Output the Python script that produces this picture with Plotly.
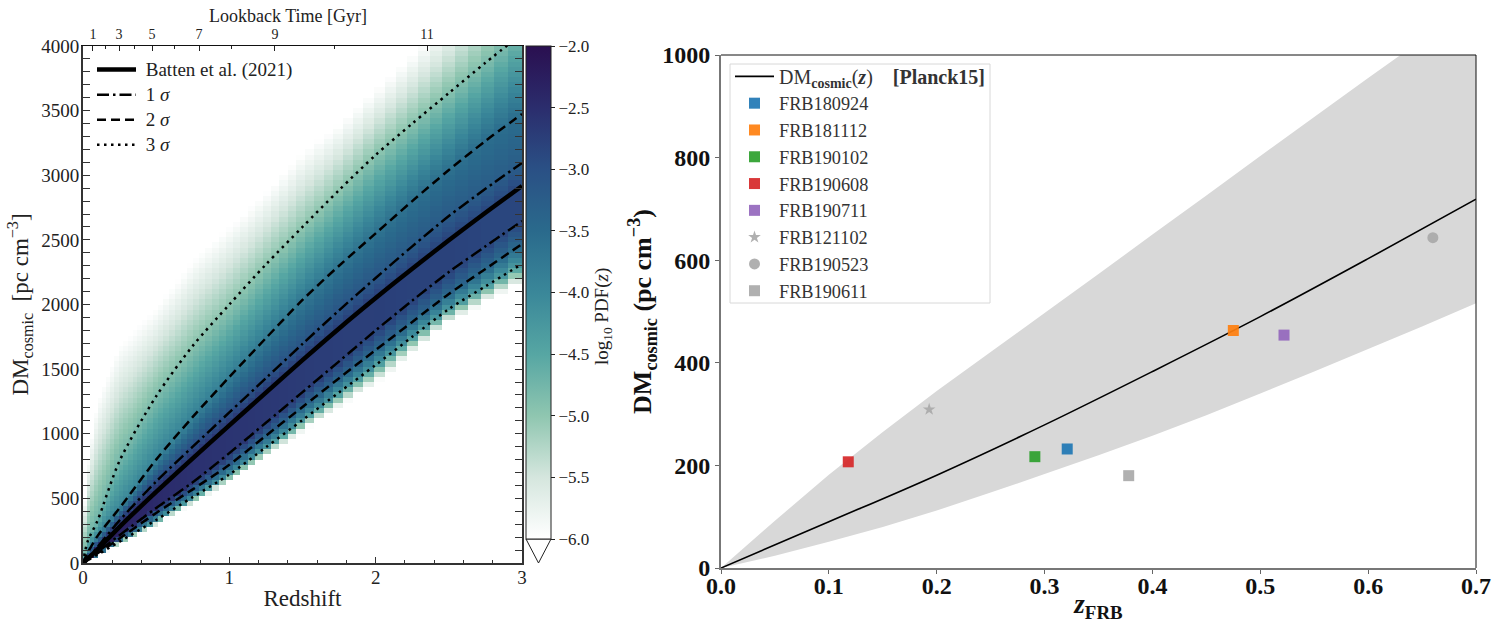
import numpy as np
import plotly.graph_objects as go

# ---------- left panel: curves ----------
z_curve = [0, .03, .1, .25, .5, .75, 1, 1.25, 1.5, 1.75, 2, 2.25, 2.5, 2.75, 3]
dm_mean = [0, 30, 105, 280, 550, 810, 1065, 1318, 1570, 1815, 2050, 2277, 2497, 2710, 2917]
dm_p1 = [0, 35, 125, 330, 630, 900, 1165, 1430, 1695, 1955, 2205, 2450, 2684, 2895, 3095]
dm_p2 = [0, 75, 210, 425, 800, 1130, 1439, 1740, 2035, 2300, 2550, 2800, 3040, 3265, 3474]
dm_p3 = [0, 162, 330, 790, 1290, 1680, 2000, 2310, 2600, 2885, 3157, 3400, 3636, 3870, 4095]
dm_m1 = [0, 25, 85, 215, 425, 625, 850, 1085, 1322, 1560, 1800, 2030, 2251, 2450, 2646]
dm_m2 = [0, 23, 75, 190, 387, 570, 760, 985, 1207, 1430, 1648, 1865, 2081, 2275, 2468]
dm_m3 = [0, 20, 65, 165, 333, 510, 685, 895, 1106, 1320, 1532, 1750, 1965, 2140, 2313]
dm_edge_low = [0, 17, 58, 145, 294, 460, 629, 820, 1020, 1210, 1393, 1630, 1865, 2020, 2174]
dm_edge_up = [300, 760, 1260, 1680, 1970, 2340, 2600, 2860, 3170, 3390, 3660, 3930, 4200, 4500, 4800]

pdf_edge_low = [-6.0] * 15
pdf_m3 = [-3.9, -3.9, -3.9, -3.95, -4.0, -4.05, -4.1, -4.15, -4.2, -4.2, -4.2, -4.25, -4.3, -4.3, -4.3]
pdf_m2 = [-3.0, -3.0, -3.05, -3.1, -3.15, -3.2, -3.25, -3.3, -3.35, -3.35, -3.4, -3.4, -3.45, -3.45, -3.5]
pdf_m1 = [-2.0, -2.05, -2.15, -2.3, -2.45, -2.55, -2.6, -2.65, -2.7, -2.75, -2.75, -2.8, -2.8, -2.85, -2.85]
pdf_mean = [-2.0, -2.05, -2.15, -2.3, -2.45, -2.55, -2.6, -2.65, -2.7, -2.75, -2.75, -2.8, -2.8, -2.85, -2.85]
pdf_p1 = [-2.5, -2.55, -2.65, -2.8, -2.9, -2.95, -3.0, -3.05, -3.1, -3.1, -3.15, -3.2, -3.2, -3.25, -3.25]
pdf_p2 = [-3.9, -3.9, -3.95, -4.0, -3.95, -3.9, -3.85, -3.8, -3.75, -3.7, -3.65, -3.6, -3.6, -3.55, -3.55]
pdf_p3 = [-4.7, -4.7, -4.7, -4.75, -4.85, -4.95, -5.0, -5.0, -5.0, -5.0, -4.95, -4.95, -4.9, -4.85, -4.75]
pdf_edge_up = [-6.0] * 15

# redshift bin edges
z_edges = [0, .0246, .0498, .0757, .1022, .1293, .1571, .1856, .2148, .2447, .2753, .3067, .3388, .3718,
           .4056, .4402, .4756, .5119, .5491, .5873, .6263, .6664, .7074, .7494, .7925, .8366, .8818,
           .9281, .9756, 1.0242, 1.0740, 1.1251, 1.1774, 1.2310, 1.2859, 1.3422, 1.3998, 1.4589, 1.5194,
           1.5814, 1.6450, 1.7101, 1.7768, 1.8451, 1.9151, 1.9869, 2.0604, 2.1357, 2.2129, 2.2920,
           2.3730, 2.4560, 2.5411, 2.6283, 2.7176, 2.8091, 2.9028, 3.0]
dm_edges = list(range(0, 4040, 40))

cbar_ticks = [-2.0, -2.5, -3.0, -3.5, -4.0, -4.5, -5.0, -5.5, -6.0]
lookback_major_z = [.068, .246, .472, .793, 1.312, 2.351]
lookback_major_txt = ["1", "3", "5", "7", "9", "11"]
lookback_minor_z = [.157, .355, .622, 1.018, 1.72]

# ---------- right panel ----------
z_band = [0, .05, .1, .15, .2, .25, .3, .35, .4, .45, .5, .55, .6, .65, .7]
dm_upper = [0, 92, 182, 265, 345, 421, 497, 573, 650, 726, 803, 879, 955, 1030, 1105]
dm_lower = [0, 24, 51, 80, 112, 147, 183, 220, 258, 298, 340, 383, 427, 471, 516]
z_line = [0, .1, .2, .3, .4, .5, .6, .7]
dm_line = [0, 90, 181, 279, 383, 490, 603, 719]

frb_names = ["FRB180924", "FRB181112", "FRB190102", "FRB190608", "FRB190711",
             "FRB121102", "FRB190523", "FRB190611"]
frb_z = [.321, .475, .291, .118, .522, .193, .66, .378]
frb_dm = [232, 463, 217, 207, 454, 309, 644, 180]
frb_col = ["#1f77b4", "#ff7f0e", "#2ca02c", "#d62728", "#9467bd", "#a9a9a9", "#a9a9a9", "#a9a9a9"]
frb_sym = ["square"] * 5 + ["star", "circle", "square"]

# ---------- heat cells: the cell grid is resampled from the table read above ----------
anchors_dm = [dm_edge_low, dm_m3, dm_m2, dm_m1, dm_mean, dm_p1, dm_p2, dm_p3, dm_edge_up]
anchors_pdf = [pdf_edge_low, pdf_m3, pdf_m2, pdf_m1, pdf_mean, pdf_p1, pdf_p2, pdf_p3, pdf_edge_up]
zc = 0.5 * (np.array(z_edges[:-1]) + np.array(z_edges[1:]))
dc = 0.5 * (np.array(dm_edges[:-1]) + np.array(dm_edges[1:]))
cells = np.full((len(dc), len(zc)), np.nan)
for i, zv in enumerate(zc):
    a_d = [np.interp(zv, z_curve, a) for a in anchors_dm]
    a_p = [np.interp(zv, z_curve, a) for a in anchors_pdf]
    cells[:, i] = np.interp(dc, a_d, a_p, left=np.nan, right=np.nan)

W, H = 1498.0, 623.0
def px(x): return x / W
def py(y): return 1 - y / H
def big(t, s): return f'<span style="font-size:{s}px">{t}</span>'

SERIF = "Liberation Serif"
colorscale = [[0, "#ffffff"], [.125, "#d5e6de"], [.25, "#8fc6b0"], [.375, "#56a6a3"], [.5, "#3a8799"],
              [.625, "#2a6a8c"], [.75, "#2a5085"], [.875, "#2b2d6d"], [1, "#2a0f50"]]

fig = go.Figure()
fig.add_trace(go.Heatmap(
    x=z_edges, y=dm_edges, z=cells.tolist(), zmin=-6, zmax=-2, colorscale=colorscale,
    hoverongaps=False,
    colorbar=dict(x=px(526), xanchor="left", y=py(539), yanchor="bottom", len=(539 - 46) / H,
                  thickness=25, xpad=0, ypad=0, outlinecolor="#222", outlinewidth=1,
                  tickvals=cbar_ticks, ticktext=[f"\u2212{abs(t):.1f}" for t in cbar_ticks],
                  ticks="outside", ticklen=4, tickcolor="#222",
                  tickfont=dict(family=SERIF, size=17, color="#222")),
    xaxis="x", yaxis="y"))

curves = [
    (dm_mean, "Batten et al. (2021)", 4.5, "solid"),
    (dm_p1, "1 <i>\u03c3</i>", 2.5, "12px,4px,2.5px,4px"),
    (dm_m1, None, 2.5, "12px,4px,2.5px,4px"),
    (dm_p2, "2 <i>\u03c3</i>", 2.5, "9px,5px"),
    (dm_m2, None, 2.5, "9px,5px"),
    (dm_p3, "3 <i>\u03c3</i>", 2.5, "2.5px,4.5px"),
    (dm_m3, None, 2.5, "2.5px,4.5px"),
]
for i, (vals, name, w, dash) in enumerate(curves):
    fig.add_trace(go.Scatter(
        x=z_curve, y=vals, mode="lines", name=big("\u00a0" + name, 19) if name else "",
        showlegend=name is not None,
        line=dict(color="black", width=w, dash=dash, shape="spline", smoothing=0.8),
        legend="legend", xaxis="x", yaxis="y"))

# carrier for the lookback-time axis
fig.add_trace(go.Scatter(x=[0, 3], y=[0, 0], mode="none", showlegend=False, hoverinfo="skip",
                         xaxis="x3", yaxis="y"))

# right panel
fig.add_trace(go.Scatter(x=z_band + z_band[::-1], y=dm_upper + dm_lower[::-1], mode="none",
                         fill="toself", fillcolor="#d8d8d8", showlegend=False, hoverinfo="skip",
                         xaxis="x2", yaxis="y2"))
fig.add_trace(go.Scatter(x=z_line, y=dm_line, mode="lines", line=dict(color="black", width=1.6, shape="spline"),
                         name=big('DM<sub><b>cosmic</b></sub>(<b><i>z</i></b>)\u00a0\u00a0\u00a0\u00a0<b>[Planck15]</b>', 20),
                         legend="legend2", legendgroup="r", xaxis="x2", yaxis="y2"))
for n, zv, dv, c, s in zip(frb_names, frb_z, frb_dm, frb_col, frb_sym):
    fig.add_trace(go.Scatter(x=[zv], y=[dv], mode="markers", name=n, legend="legend2", legendgroup=n,
                             marker=dict(color=c, symbol=s, size=9.5 if s == "star" else 11, opacity=0.92,
                                         line=dict(width=0)),
                             xaxis="x2", yaxis="y2"))

left_font = dict(family=SERIF, size=19, color="#222")
bold_font = dict(family=SERIF, size=24, color="#111", weight="bold")
dark = "#333"
fig.update_layout(
    width=W, height=H, margin=dict(l=0, r=0, t=0, b=0, autoexpand=False), autosize=False,
    paper_bgcolor="white", plot_bgcolor="white", font=dict(family=SERIF, color="#222"),
    xaxis=dict(domain=[px(83), px(522)], range=[0, 3], anchor="y", tickvals=[0, 1, 2, 3],
               ticks="inside", ticklen=6, tickcolor=dark, showgrid=False, zeroline=False,
               showline=True, linecolor=dark, linewidth=2, tickfont=left_font, ticklabelstandoff=-4,
               minor=dict(tickvals=[.2, .4, .6, .8, 1.2, 1.4, 1.6, 1.8, 2.2, 2.4, 2.6, 2.8],
                          ticks="inside", ticklen=3, tickcolor=dark, showgrid=False),
               title=dict(text="Redshift", font=dict(family=SERIF, size=23, color="#222"), standoff=3)),
    yaxis=dict(domain=[py(563), py(46)], range=[0, 4000], anchor="x", tickvals=list(range(0, 4500, 500)),
               ticks="inside", ticklen=7, tickcolor=dark, showgrid=False, zeroline=False,
               showline=True, linecolor=dark, linewidth=2, mirror="allticks", tickfont=left_font,
               ticklabelstandoff=-2,
               minor=dict(dtick=100, ticks="inside", ticklen=3, tickcolor=dark, showgrid=False),
               title=dict(text="DM<sub>cosmic</sub>\u00a0\u00a0[pc cm<sup>\u22123</sup>]",
                          font=dict(family=SERIF, size=23, color="#222"), standoff=6)),
    xaxis3=dict(overlaying="x", side="top", anchor="y", range=[0, 3], tickvals=lookback_major_z,
                ticktext=lookback_major_txt, ticks="inside", ticklen=5, tickcolor="#222", showgrid=False,
                zeroline=False, showline=True, linecolor="#111", linewidth=1,
                tickfont=dict(family=SERIF, size=14, color="#222"),
                minor=dict(tickvals=lookback_minor_z, ticks="inside", ticklen=3, tickcolor="#222", showgrid=False)),
    xaxis2=dict(domain=[px(721), px(1476)], range=[0, .7], anchor="y2", tickvals=[0, .1, .2, .3, .4, .5, .6, .7],
                ticktext=["0.0", "0.1", "0.2", "0.3", "0.4", "0.5", "0.6", "0.7"],
                ticks="outside", ticklen=4, tickcolor="#666", showgrid=False, zeroline=False,
                showline=True, linecolor="#777", linewidth=2, tickfont=bold_font, ticklabelstandoff=-9,
                title=dict(text="<b><i>z</i><sub>FRB</sub></b>", font=dict(family=SERIF, size=27, color="#111"), standoff=0)),
    yaxis2=dict(domain=[py(568), py(55)], range=[0, 1000], anchor="x2", tickvals=[0, 200, 400, 600, 800, 1000],
                ticks="outside", ticklen=4, tickcolor="#666", showgrid=False, zeroline=False,
                showline=True, linecolor="#777", linewidth=2, tickfont=bold_font,
                title=dict(text="<b>DM<sub>cosmic</sub> (pc cm<sup>\u22123</sup>)</b>",
                           font=dict(family=SERIF, size=26, color="#111"), standoff=3)),
    legend=dict(x=px(92), xanchor="left", y=py(52), yanchor="top", bgcolor="rgba(0,0,0,0)", borderwidth=0,
                itemwidth=39, font=dict(family=SERIF, size=17, color="#222")),
    legend2=dict(x=px(730), xanchor="left", y=py(58), yanchor="top", bgcolor="rgba(0,0,0,0)",
                 borderwidth=0, itemwidth=39, tracegroupgap=0,
                 font=dict(family=SERIF, size=18.3, color="#333")),
    shapes=[
        dict(type="line", xref="x2 domain", yref="y2 domain", x0=0, x1=1, y0=1, y1=1, line=dict(color="#111", width=1)),
        dict(type="line", xref="x2 domain", yref="y2 domain", x0=1, x1=1, y0=0, y1=1, line=dict(color="#111", width=1)),
        dict(type="rect", xref="paper", yref="paper", x0=px(730), x1=px(990), y0=py(303), y1=py(64),
             line=dict(color="#d8d8d8", width=1), fillcolor="rgba(0,0,0,0)"),
        dict(type="path", xref="paper", yref="paper",
             path=f"M{px(526)},{py(539)} L{px(538.5)},{py(563)} L{px(551)},{py(539)} Z",
             fillcolor="white", line=dict(color="#222", width=1)),
    ],
    annotations=[
        dict(xref="paper", yref="paper", x=px(603), y=py(317), xanchor="center", yanchor="middle",
             text="log<sub>10</sub> PDF(<i>z</i>)",
             textangle=-90, showarrow=False, font=dict(family=SERIF, size=19, color="#222")),
        dict(xref="paper", yref="paper", x=px(288), y=py(16), xanchor="center", yanchor="middle",
             text="Lookback Time [Gyr]",
             showarrow=False, font=dict(family=SERIF, size=18, color="#222")),
    ],
)
fig.write_html("out.html", config=dict(displayModeBar=False), post_script="document.body.style.margin='0';")
